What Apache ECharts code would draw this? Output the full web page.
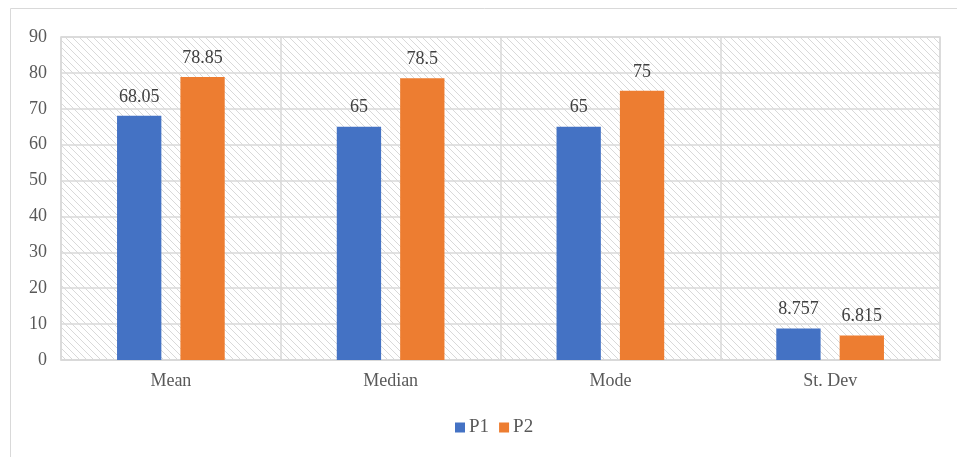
<!DOCTYPE html>
<html>
<head>
<meta charset="utf-8">
<style>
  html, body { margin: 0; padding: 0; background: #ffffff; }
  #chart { width: 957px; height: 457px; }
</style>
<script src="https://cdn.jsdelivr.net/npm/echarts@6/dist/echarts.min.js"></script>
</head>
<body>
<div id="chart"></div>
<script>
// Summary statistics for the two groups
const categories = ['Mean', 'Median', 'Mode', 'St. Dev'];
const p1Values = [68.05, 65, 65, 8.757];
const p2Values = [78.85, 78.5, 75, 6.815];
const yTicks = [0, 10, 20, 30, 40, 50, 60, 70, 80, 90];

// Light downward-diagonal hatch used as the plot background
function hatchTile() {
  const size = 7;
  const c = document.createElement('canvas');
  c.width = size; c.height = size;
  const ctx = c.getContext('2d');
  ctx.fillStyle = '#ffffff';
  ctx.fillRect(0, 0, size, size);
  ctx.fillStyle = '#d9d9d9';
  for (let i = 0; i < size; i++) {
    ctx.fillRect(i, i, 1, 1);
  }
  return c;
}

const textColor = '#595959';
const font = '"Liberation Serif", "Times New Roman", serif';

const chart = echarts.init(document.getElementById('chart'));
chart.setOption({
  animation: false,
  textStyle: { fontFamily: font },
  graphic: [{
    type: 'rect',
    shape: { x: 10.5, y: 8.5, width: 1000, height: 500 },
    style: { fill: 'none', stroke: '#d9d9d9', lineWidth: 1 },
    silent: true
  }],
  grid: {
    left: 61, right: 17, top: 37, bottom: 97,
    show: true,
    backgroundColor: { image: hatchTile(), repeat: 'repeat' },
    borderColor: '#d9d9d9',
    borderWidth: 1.5
  },
  legend: {
    bottom: 15,
    left: 450,
    itemWidth: 10,
    itemHeight: 10,
    itemGap: 10,
    icon: 'rect',
    textStyle: { color: textColor, fontSize: 19, fontFamily: font, padding: [0, 0, 0, -1] },
    data: ['P1', 'P2']
  },
  xAxis: {
    type: 'category',
    data: categories,
    axisLine: { show: true, lineStyle: { color: '#d9d9d9', width: 1.5 } },
    axisTick: { show: false },
    splitLine: { show: true, lineStyle: { color: '#d9d9d9', width: 1.5 } },
    axisLabel: { color: textColor, fontSize: 18, fontFamily: font, margin: 12 }
  },
  yAxis: {
    type: 'value',
    min: yTicks[0],
    max: yTicks[yTicks.length - 1],
    interval: 10,
    axisLine: { show: false },
    axisTick: { show: false },
    splitLine: { show: true, lineStyle: { color: '#d9d9d9', width: 1.5 } },
    axisLabel: { color: textColor, fontSize: 18, fontFamily: font, margin: 14 }
  },
  series: [
    {
      name: 'P1',
      type: 'bar',
      data: p1Values,
      barGap: '43%',
      barCategoryGap: '51%',
      itemStyle: { color: '#4472c4' },
      label: { show: true, position: 'top', distance: 10, color: '#404040', fontSize: 18, fontFamily: font }
    },
    {
      name: 'P2',
      type: 'bar',
      data: p2Values,
      itemStyle: { color: '#ed7d31' },
      label: { show: true, position: 'top', distance: 10, color: '#404040', fontSize: 18, fontFamily: font }
    }
  ]
});
</script>
</body>
</html>
